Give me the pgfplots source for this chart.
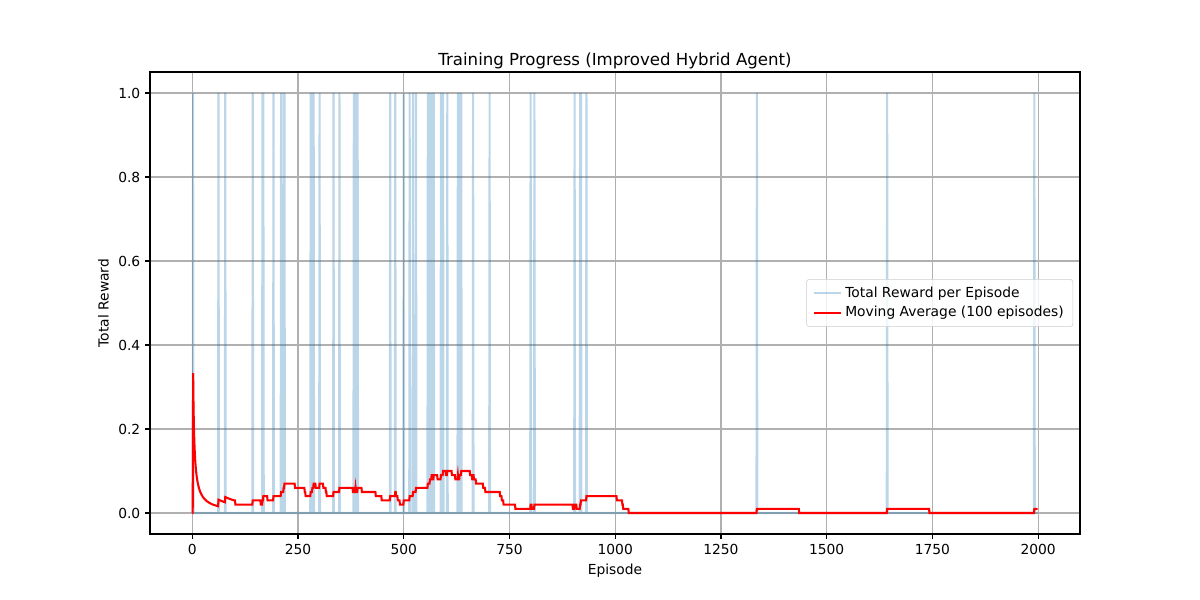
\documentclass[border=0pt]{standalone}
\usepackage{fontspec}
\setmainfont{DejaVu Sans}
\usepackage{pgfplots}
\pgfplotsset{compat=1.18}
\definecolor{c0}{RGB}{31,119,180}
\definecolor{gridc}{HTML}{B0B0B0}
\begin{document}
\fontsize{10}{12}\selectfont
\begin{tikzpicture}
\path[use as bounding box] (-1.5in,-0.66in) rectangle (10.5in,5.34in);
\begin{axis}[
  at={(0,0)}, anchor=south west,
  scale only axis, width=9.3in, height=4.62in,
  xmin=-99.95, xmax=2098.95, ymin=-0.05, ymax=1.05,
  xtick={0,250,500,750,1000,1250,1500,1750,2000},
  ytick={0,0.2,0.4,0.6,0.8,1.0},
  grid=major, grid style={gridc, line width=0.8pt},
  axis line style={line width=0.8pt},
  tick style={black, line width=0.8pt}, tick align=outside, major tick length=3.5pt,
  xtick pos=bottom, ytick pos=left, minor tick num=0,
  /pgf/number format/assume math mode=true,
  tick label style={font=\fontsize{10}{12}\selectfont},
  xticklabel style={/pgf/number format/1000 sep={}},
  yticklabel style={/pgf/number format/.cd, fixed, fixed zerofill, precision=1},
  xlabel={Episode}, ylabel={Total Reward},
  label style={font=\fontsize{10}{12}\selectfont},
  title={Training Progress (Improved Hybrid Agent)},
  title style={font=\fontsize{12}{14}\selectfont, anchor=base, yshift=-1.2pt},
  legend style={at={(1,0.5)}, anchor=east, xshift=-5pt, draw=black!20, rounded corners=2pt,
    fill=white, fill opacity=0.8, text opacity=1, draw opacity=1,
    font=\fontsize{10}{12}\selectfont, inner xsep=4.5pt, inner ysep=3.5pt, row sep=1pt},
  legend cell align=left,
  legend image code/.code={\draw[#1] (0pt,0pt) -- (20pt,0pt);},
]
\addplot[c0, draw opacity=0.3, line width=1.5pt, mark=none] coordinates {
(0,0)(1,0)(2,1)(3,0)(61,0)(62,1)(63,0)(77,0)(78,1)(79,0)
(142,0)(143,1)(144,0)(165,0)(166,1)(167,0)(168,1)(169,0)
(191,0)(192,1)(193,0)(209,0)(210,1)(211,0)(215,0)(216,1)(217,0)(218,1)(219,0)
(279,0)(280,1)(281,0)(283,0)(284,1)(285,0)(286,0)(287,1)(288,0)
(300,0)(301,1)(302,0)(333,0)(334,1)(335,0)(347,0)(348,1)(349,0)
(381,0)(382,1)(383,0)(385,0)(386,1)(387,0)(390,0)(391,1)(392,0)
(467,0)(468,1)(469,0)(479,0)(480,1)(481,0)(499,0)(500,1)(501,0)
(513,0)(514,1)(515,0)(521,0)(522,1)(523,0)(528,0)(529,1)(530,0)
(556,0)(557,1)(558,0)(561,0)(562,1)(563,0)(565,0)(566,1)(567,0)(570,0)(571,1)(572,0)
(587,0)(588,1)(589,0)(592,0)(593,1)(594,0)(602,0)(603,1)(604,0)
(627,0)(628,1)(629,0)(631,0)(632,1)(633,0)(635,0)(636,1)(637,0)
(663,0)(664,1)(665,0)(702,0)(703,1)(704,0)
(799,0)(800,1)(801,0)(808,0)(809,1)(810,0)
(903,0)(904,1)(905,0)(916,0)(917,1)(918,0)(919,1)(920,0)(931,0)(932,1)(933,0)
(1334,0)(1335,1)(1336,0)(1642,0)(1643,1)(1644,0)(1990,0)(1991,1)(1992,0)(1999,0)
};
\addlegendentry{Total Reward per Episode}
\addplot[red, line width=1.5pt, mark=none] coordinates {
(0,0)(1,0)(2,0.3333)(3,0.25)(4,0.2)(5,0.1667)(6,0.1429)(7,0.125)(8,0.1111)(9,0.1)
(10,0.0909)(11,0.0833)(12,0.0769)(13,0.0714)(14,0.0667)(15,0.0625)(16,0.0588)(17,0.0556)
(18,0.0526)(19,0.05)(20,0.0476)(22,0.0435)(24,0.04)(26,0.037)(28,0.0345)(30,0.0323)
(33,0.0294)(36,0.027)(40,0.0244)(45,0.0217)(50,0.0196)(55,0.0179)(61,0.0161)
(62,0.0317)(66,0.0299)(70,0.0282)(77,0.0256)(78,0.038)(84,0.0353)(90,0.033)(95,0.0313)
(99,0.03)(101,0.03)(102,0.02)
(142,0.02)(143,0.03)(161,0.03)(162,0.02)(165,0.02)(166,0.03)(167,0.03)(168,0.04)
(177,0.04)(178,0.03)(191,0.03)(192,0.04)(209,0.04)(210,0.05)(215,0.05)(216,0.06)
(217,0.06)(218,0.07)(242,0.07)(243,0.06)(265,0.06)(266,0.05)(267,0.05)(268,0.04)
(279,0.04)(280,0.05)(283,0.05)(284,0.06)(286,0.06)(287,0.07)(291,0.07)(292,0.06)
(300,0.06)(301,0.07)(309,0.07)(310,0.06)(315,0.06)(316,0.05)(317,0.05)(318,0.04)
(333,0.04)(334,0.05)(347,0.05)(348,0.06)(379,0.06)(380,0.05)(381,0.05)(382,0.06)
(383,0.06)(384,0.05)(385,0.05)(386,0.06)(387,0.05)(390,0.05)(391,0.06)(400,0.06)
(401,0.05)(433,0.05)(434,0.04)(447,0.04)(448,0.03)(467,0.03)(468,0.04)(479,0.04)
(480,0.05)(481,0.05)(482,0.04)(485,0.04)(486,0.03)(490,0.03)(491,0.02)(499,0.02)
(500,0.03)(513,0.03)(514,0.04)(521,0.04)(522,0.05)(528,0.05)(529,0.06)(556,0.06)
(557,0.07)(561,0.07)(562,0.08)(565,0.08)(566,0.09)(567,0.09)(568,0.08)(570,0.08)
(571,0.09)(579,0.09)(580,0.08)(587,0.08)(588,0.09)(592,0.09)(593,0.10)(599,0.10)
(600,0.09)(602,0.09)(603,0.10)(613,0.10)(614,0.09)(621,0.09)(622,0.08)(627,0.08)
(628,0.09)(629,0.08)(631,0.08)(632,0.09)(635,0.09)(636,0.10)(656,0.10)(657,0.09)
(661,0.09)(662,0.08)(663,0.08)(664,0.09)(665,0.09)(666,0.08)(670,0.08)(671,0.07)
(687,0.07)(688,0.06)(692,0.06)(693,0.05)(727,0.05)(728,0.04)(731,0.04)(732,0.03)
(735,0.03)(736,0.02)(763,0.02)(764,0.01)(799,0.01)(800,0.02)(802,0.02)(803,0.01)
(808,0.01)(809,0.02)(899,0.02)(900,0.01)(903,0.01)(904,0.02)(908,0.02)(909,0.01)
(916,0.01)(917,0.02)(918,0.02)(919,0.03)(931,0.03)(932,0.04)(1003,0.04)(1004,0.03)
(1016,0.03)(1017,0.02)(1018,0.02)(1019,0.01)(1031,0.01)(1032,0)(1334,0)(1335,0.01)
(1434,0.01)(1435,0)(1642,0)(1643,0.01)(1742,0.01)(1743,0)(1990,0)(1991,0.01)(1999,0.01)
};
\addlegendentry{Moving Average (100 episodes)}
\end{axis}
\end{tikzpicture}
\end{document}
